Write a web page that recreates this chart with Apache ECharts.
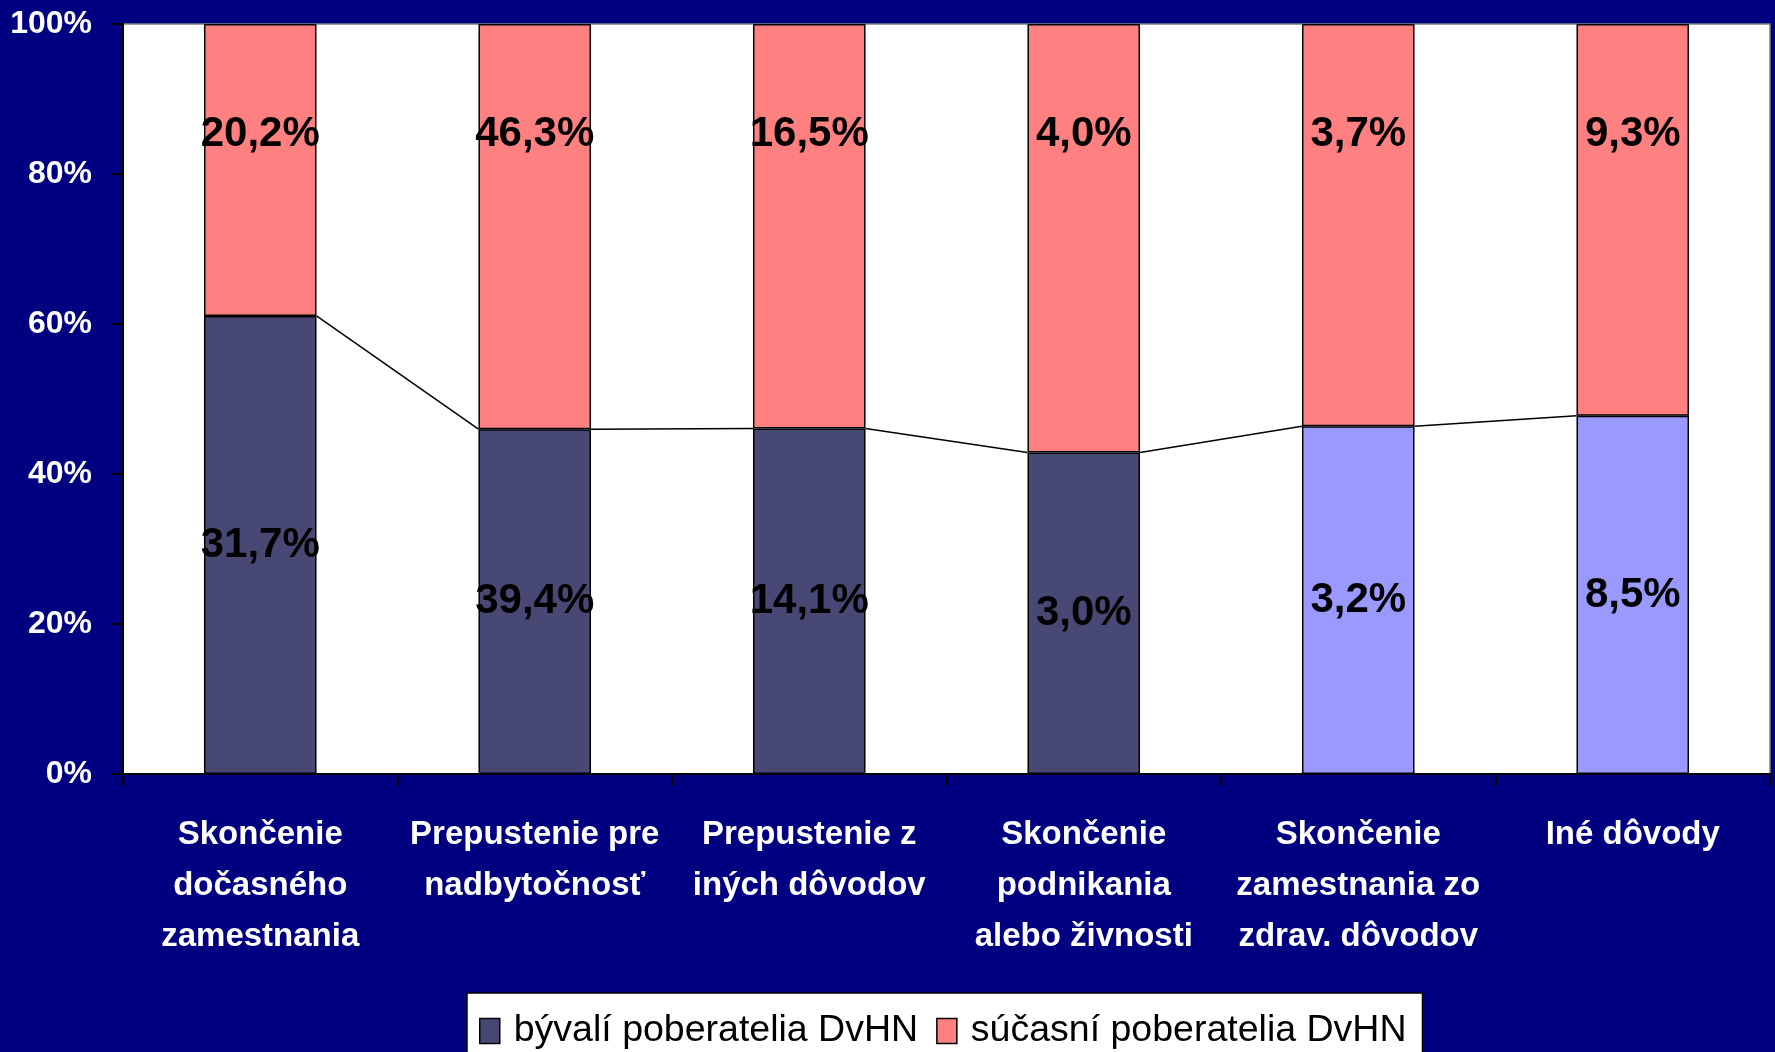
<!DOCTYPE html>
<html>
<head>
<meta charset="utf-8">
<script src="https://cdn.jsdelivr.net/npm/echarts@6/dist/echarts.min.js"></script>
<style>
html,body{margin:0;padding:0;background:#000080;}
#chart{width:1775px;height:1052px;}
</style>
</head>
<body>
<div id="chart"></div>
<script>
// kategorie (dovody skoncenia)
var categories = [
    'Skončenie\ndočasného\nzamestnania',
    'Prepustenie pre\nnadbytočnosť',
    'Prepustenie z\niných dôvodov',
    'Skončenie\npodnikania\nalebo živnosti',
    'Skončenie\nzamestnania zo\nzdrav. dôvodov',
    'Iné dôvody'
];
var seriesNames = ['bývalí poberatelia DvHN', 'súčasní poberatelia DvHN'];
var byvali  = [31.7, 39.4, 14.1, 3.0, 3.2, 8.5];
var sucasni = [20.2, 46.3, 16.5, 4.0, 3.7, 9.3];
var yTicks  = [0, 20, 40, 60, 80, 100];

// farby
var byvaliColors = ['#484874', '#484874', '#484874', '#484874', '#9999FF', '#9999FF'];
var sucasniColor = '#FF8080';
var font = "'Liberation Sans', Arial, sans-serif";
var barFrac = 0.41;

function fmt(v) {
    return v.toFixed(1).replace('.', ',') + '%';
}
// 100% skladany graf - podiely
var byvaliPct = [], sucasniPct = [];
for (var i = 0; i < byvali.length; i++) {
    var sum = byvali[i] + sucasni[i];
    byvaliPct.push(byvali[i] / sum * 100);
    sucasniPct.push(sucasni[i] / sum * 100);
}

var myChart = echarts.init(document.getElementById('chart'));
var option = {
    backgroundColor: '#000080',
    animation: false,
    grid: {
        left: 123, top: 24, right: 5, bottom: 278,
        show: true,
        backgroundColor: '#fff',
        borderColor: '#808080',
        borderWidth: 1.5
    },
    legend: {
        data: seriesNames,
        left: 467, top: 993,
        backgroundColor: '#fff',
        borderColor: '#000',
        borderWidth: 1.5,
        padding: [19, 16, 12, 12],
        itemWidth: 20, itemHeight: 25,
        itemGap: 18,
        icon: 'rect',
        itemStyle: {borderColor: '#000', borderWidth: 1.5},
        textStyle: {color: '#000', fontSize: 37.5, fontFamily: font, padding: [0, 0, 0, 9]}
    },
    xAxis: {
        type: 'category',
        data: categories,
        axisLine: {lineStyle: {color: '#000', width: 2}},
        axisTick: {show: true, length: 12, lineStyle: {color: '#000', width: 2}},
        axisLabel: {
            interval: 0, margin: 35,
            color: '#fff', fontWeight: 'bold', fontSize: 33, lineHeight: 51,
            fontFamily: font
        }
    },
    yAxis: {
        type: 'value',
        min: yTicks[0], max: yTicks[yTicks.length - 1], interval: 20,
        splitLine: {show: false},
        axisLine: {show: true, lineStyle: {color: '#000', width: 2}},
        axisTick: {show: true, length: 12, lineStyle: {color: '#000', width: 2}},
        axisLabel: {
            margin: 31,
            color: '#fff', fontWeight: 'bold', fontSize: 32, fontFamily: font,
            formatter: '{value}%'
        }
    },
    series: [
        {
            name: seriesNames[0],
            type: 'bar',
            stack: 'spolu',
            barWidth: (barFrac * 100) + '%',
            itemStyle: {color: byvaliColors[0], borderColor: '#000', borderWidth: 1.5},
            data: byvaliPct.map(function (v, i) {
                return {value: v, itemStyle: {color: byvaliColors[i]}};
            }),
            label: {
                show: true, position: 'inside',
                color: '#000', fontWeight: 'bold', fontSize: 42, fontFamily: font,
                formatter: function (p) { return fmt(byvali[p.dataIndex]); }
            }
        },
        {
            name: seriesNames[1],
            type: 'bar',
            stack: 'spolu',
            barWidth: (barFrac * 100) + '%',
            itemStyle: {color: sucasniColor, borderColor: '#000', borderWidth: 1.5},
            data: sucasniPct,
            label: {
                show: true, position: ['50%', 110],
                align: 'center', verticalAlign: 'middle',
                color: '#000', fontWeight: 'bold', fontSize: 42, fontFamily: font,
                formatter: function (p) { return fmt(sucasni[p.dataIndex]); }
            }
        },
        {
            // spojovacie ciary medzi stlpcami
            type: 'custom',
            silent: true,
            z: 5,
            data: byvaliPct.map(function (v, i) { return [i, v]; }),
            renderItem: function (params, api) {
                var i = params.dataIndex;
                if (i >= byvaliPct.length - 1) return;
                var p0 = api.coord([i, byvaliPct[i]]);
                var p1 = api.coord([i + 1, byvaliPct[i + 1]]);
                var half = api.size([1, 0])[0] * barFrac / 2;
                return {
                    type: 'line',
                    shape: {x1: p0[0] + half, y1: p0[1], x2: p1[0] - half, y2: p1[1]},
                    style: {stroke: '#000', lineWidth: 1.5}
                };
            }
        }
    ]
};
myChart.setOption(option);
</script>
</body>
</html>
